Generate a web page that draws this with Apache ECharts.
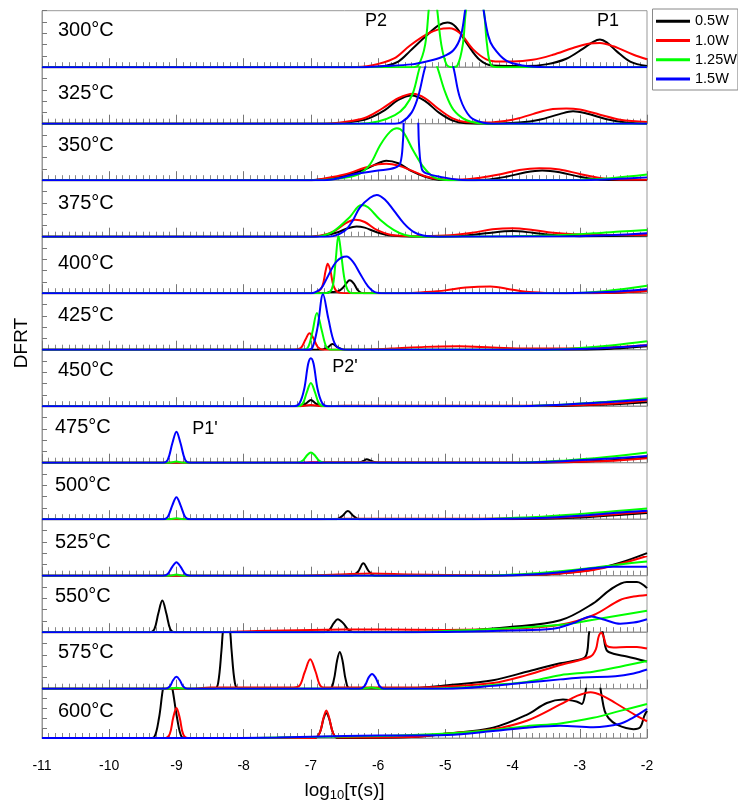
<!DOCTYPE html>
<html><head><meta charset="utf-8">
<script src="https://cdn.jsdelivr.net/npm/echarts@6/dist/echarts.min.js"></script>
<style>html,body{margin:0;padding:0;background:#fff}#c{width:738px;height:803px}</style>
</head><body><div id="c"></div>
<script>
// ---------- categories / labels ----------
const powers = ['0.5W', '1.0W', '1.25W', '1.5W'];
const temps = ['300°C','325°C','350°C','375°C','400°C','425°C','450°C','475°C','500°C','525°C','550°C','575°C','600°C'];
const xMin = -11, xMax = -2, xStep = 1;

// ---------- series values: [log10(tau), DFRT (fraction of panel height)] ----------
// 300°C
const d300_05 = [[-11,0],[-6.2,0],[-5.9,0.02],[-5.7,0.1],[-5.53,0.28],[-5.28,0.56],[-5.1,0.74],[-4.97,0.79],[-4.85,0.72],[-4.68,0.42],[-4.49,0.13],[-4.3,0.03],[-3.8,0.02],[-3.5,0.05],[-3.2,0.15],[-2.95,0.33],[-2.8,0.45],[-2.7,0.49],[-2.6,0.44],[-2.45,0.28],[-2.25,0.1],[-2,0.02]];
const d300_10 = [[-11,0],[-6.4,0],[-6.1,0.03],[-5.77,0.15],[-5.53,0.38],[-5.28,0.58],[-5.1,0.67],[-4.94,0.69],[-4.78,0.6],[-4.59,0.32],[-4.39,0.14],[-4.2,0.1],[-4.0,0.1],[-3.7,0.13],[-3.4,0.22],[-3.1,0.34],[-2.85,0.42],[-2.7,0.43],[-2.5,0.37],[-2.2,0.22],[-2,0.14]];
const d300_125 = [[-11,0],[-5.5,0],[-5.4,0.04],[-5.3,0.4],[-5.24,1.1],[-5.19,1.5],[-5.13,1.1],[-5.06,0.4],[-4.98,0.04],[-4.9,0],[-4.82,0.03],[-4.74,0.4],[-4.68,1.1],[-4.56,1.5],[-4.44,1.1],[-4.38,0.4],[-4.32,0.04],[-4.2,0],[-2,0]];
const d300_15 = [[-11,0],[-6.3,0],[-5.9,0.02],[-5.5,0.05],[-5.28,0.1],[-5.05,0.18],[-4.88,0.3],[-4.77,0.55],[-4.7,1.05],[-4.62,1.6],[-4.5,1.6],[-4.43,1.0],[-4.36,0.55],[-4.29,0.36],[-4.1,0.12],[-3.85,0.03],[-3.5,0],[-2,0]];
// 325°C
const d325_05 = [[-11,0],[-6.7,0],[-6.4,0.03],[-6.15,0.09],[-5.9,0.24],[-5.7,0.42],[-5.5,0.5],[-5.3,0.4],[-5.1,0.2],[-4.9,0.06],[-4.7,0.01],[-4.3,0],[-3.9,0.02],[-3.6,0.07],[-3.3,0.17],[-3.1,0.22],[-2.9,0.18],[-2.6,0.08],[-2.3,0.02],[-2,0]];
const d325_10 = [[-11,0],[-6.8,0],[-6.5,0.03],[-6.2,0.1],[-5.95,0.26],[-5.7,0.45],[-5.48,0.53],[-5.3,0.45],[-5.1,0.26],[-4.9,0.1],[-4.7,0.03],[-4.4,0.02],[-4.0,0.07],[-3.7,0.17],[-3.4,0.26],[-3.2,0.27],[-3.0,0.25],[-2.7,0.16],[-2.4,0.07],[-2,0.03]];
const d325_125 = [[-11,0],[-6.3,0],[-6.0,0.04],[-5.75,0.15],[-5.6,0.3],[-5.48,0.55],[-5.38,1.0],[-5.25,1.4],[-5.12,1.0],[-5.0,0.55],[-4.88,0.25],[-4.7,0.07],[-4.5,0.01],[-4.3,0],[-2,0]];
const d325_15 = [[-11,0],[-5.8,0],[-5.65,0.03],[-5.5,0.2],[-5.4,0.5],[-5.3,1.0],[-5.15,1.5],[-5.0,1.5],[-4.88,1.0],[-4.78,0.45],[-4.63,0.12],[-4.45,0.02],[-4.3,0],[-2,0]];
// 350°C
const d350_05 = [[-11,0],[-7.0,0],[-6.8,0.02],[-6.5,0.08],[-6.2,0.19],[-6.0,0.3],[-5.88,0.345],[-5.7,0.3],[-5.5,0.16],[-5.3,0.06],[-5.1,0.01],[-4.8,0],[-4.4,0.01],[-4.1,0.06],[-3.8,0.14],[-3.56,0.17],[-3.3,0.14],[-3.0,0.06],[-2.7,0.01],[-2,0]];
const d350_10 = [[-11,0],[-7.0,0],[-6.8,0.03],[-6.5,0.1],[-6.2,0.22],[-6.0,0.28],[-5.88,0.29],[-5.7,0.26],[-5.5,0.17],[-5.3,0.07],[-5.1,0.02],[-4.8,0.01],[-4.5,0.04],[-4.2,0.1],[-3.9,0.18],[-3.6,0.21],[-3.3,0.19],[-3.0,0.11],[-2.7,0.04],[-2.4,0.01],[-2,0.01]];
const d350_125 = [[-11,0],[-6.9,0],[-6.6,0.03],[-6.3,0.1],[-6.12,0.28],[-5.97,0.62],[-5.82,0.86],[-5.72,0.92],[-5.63,0.86],[-5.48,0.53],[-5.33,0.24],[-5.18,0.06],[-5.03,0.01],[-4.8,0],[-3.0,0.01],[-2.5,0.04],[-2,0.1]];
const d350_15 = [[-11,0],[-6.8,0],[-6.6,0.03],[-6.3,0.12],[-6.0,0.17],[-5.75,0.22],[-5.67,0.3],[-5.63,0.7],[-5.6,1.3],[-5.5,1.6],[-5.42,1.3],[-5.39,0.6],[-5.35,0.2],[-5.28,0.12],[-5.03,0.05],[-4.8,0.01],[-4.5,0],[-3.0,0],[-2.5,0.02],[-2,0.05]];
// 375°C
const d375_05 = [[-11,0],[-7.0,0],[-6.8,0.02],[-6.6,0.08],[-6.45,0.15],[-6.32,0.18],[-6.2,0.16],[-6.02,0.08],[-5.8,0.02],[-5.5,0],[-4.8,0.01],[-4.4,0.06],[-4.0,0.1],[-3.7,0.07],[-3.4,0.03],[-3.0,0.01],[-2,0.02]];
const d375_10 = [[-11,0],[-7.0,0],[-6.85,0.02],[-6.65,0.1],[-6.48,0.24],[-6.34,0.3],[-6.2,0.26],[-6.02,0.12],[-5.8,0.03],[-5.5,0.01],[-5.0,0.02],[-4.6,0.07],[-4.3,0.13],[-4.0,0.15],[-3.7,0.12],[-3.4,0.07],[-3.0,0.04],[-2.5,0.03],[-2,0.03]];
const d375_125 = [[-11,0],[-7.0,0],[-6.86,0.01],[-6.67,0.09],[-6.42,0.35],[-6.25,0.56],[-6.15,0.52],[-5.97,0.3],[-5.77,0.12],[-5.6,0.03],[-5.4,0],[-4.0,0.01],[-3.5,0.02],[-2.8,0.06],[-2.4,0.09],[-2,0.12]];
const d375_15 = [[-11,0],[-6.8,0],[-6.67,0.01],[-6.5,0.1],[-6.38,0.28],[-6.27,0.52],[-6.12,0.69],[-6.02,0.74],[-5.9,0.66],[-5.77,0.47],[-5.62,0.24],[-5.48,0.09],[-5.33,0.02],[-5.1,0],[-3.0,0.01],[-2.5,0.03],[-2,0.06]];
// 400°C
const d400_05 = [[-11,0],[-6.8,0],[-6.72,0.02],[-6.6,0.03],[-6.52,0.1],[-6.45,0.21],[-6.42,0.23],[-6.36,0.17],[-6.3,0.05],[-6.22,0],[-3.0,0],[-2.5,0.01],[-2,0.04]];
const d400_10 = [[-11,0],[-7.0,0],[-6.9,0.02],[-6.83,0.12],[-6.78,0.4],[-6.75,0.52],[-6.71,0.4],[-6.66,0.12],[-6.58,0.01],[-6.4,0],[-5.6,0],[-5.3,0.02],[-5.0,0.05],[-4.7,0.1],[-4.33,0.12],[-4.0,0.06],[-3.7,0.015],[-3.3,0],[-2.5,0.01],[-2,0.04]];
const d400_125 = [[-11,0],[-6.8,0],[-6.72,0.02],[-6.67,0.15],[-6.63,0.6],[-6.59,1.02],[-6.55,0.7],[-6.5,0.25],[-6.45,0.05],[-6.38,0],[-3.2,0],[-2.6,0.04],[-2,0.13]];
const d400_15 = [[-11,0],[-7.0,0],[-6.95,0.01],[-6.85,0.08],[-6.76,0.27],[-6.62,0.56],[-6.47,0.65],[-6.37,0.55],[-6.27,0.35],[-6.15,0.12],[-6.05,0.02],[-5.9,0],[-3.2,0],[-2.6,0.02],[-2,0.07]];
// 425°C
const d425_05 = [[-11,0],[-6.85,0],[-6.75,0.04],[-6.68,0.1],[-6.6,0.04],[-6.5,0],[-3.0,0],[-2.5,0.02],[-2,0.06]];
const d425_10 = [[-11,0],[-7.25,0],[-7.15,0.03],[-7.08,0.18],[-7.02,0.29],[-6.96,0.2],[-6.9,0.05],[-6.82,0],[-6.3,0],[-5.8,0.02],[-5.3,0.05],[-4.8,0.06],[-4.3,0.04],[-3.8,0.02],[-3.3,0.02],[-2.6,0.04],[-2,0.08]];
const d425_125 = [[-11,0],[-7.15,0],[-7.05,0.03],[-6.98,0.3],[-6.91,0.65],[-6.84,0.35],[-6.77,0.05],[-6.7,0],[-3.5,0],[-3.0,0.03],[-2.5,0.08],[-2,0.15]];
const d425_15 = [[-11,0],[-7.05,0],[-6.98,0.03],[-6.9,0.4],[-6.82,0.98],[-6.74,0.55],[-6.65,0.12],[-6.55,0.01],[-6.45,0],[-3.5,0],[-2.8,0.02],[-2,0.08]];
// 450°C
const d450_05 = [[-11,0],[-7.15,0],[-7.07,0.05],[-7.0,0.11],[-6.93,0.05],[-6.85,0],[-3.5,0],[-2.6,0.03],[-2,0.07]];
const d450_10 = [[-11,0],[-7.2,0],[-7.0,0.02],[-6.8,0],[-6.5,0.01],[-5.0,0.01],[-3.5,0.01],[-2.6,0.04],[-2,0.1]];
const d450_125 = [[-11,0],[-7.2,0],[-7.12,0.05],[-7.06,0.25],[-7.0,0.41],[-6.94,0.25],[-6.88,0.05],[-6.8,0],[-4.0,0],[-3.2,0.03],[-2.6,0.08],[-2,0.14]];
const d450_15 = [[-11,0],[-7.25,0],[-7.17,0.05],[-7.1,0.3],[-7.04,0.75],[-7.0,0.85],[-6.96,0.75],[-6.9,0.3],[-6.83,0.05],[-6.75,0],[-4.0,0],[-3.2,0.03],[-2.6,0.07],[-2,0.12]];
// 475°C
const d475_05 = [[-11,0],[-6.3,0],[-6.22,0.03],[-6.17,0.06],[-6.1,0.03],[-6.0,0],[-3.5,0],[-2.6,0.04],[-2,0.09]];
const d475_10 = [[-11,0],[-7.1,0],[-7.0,0.01],[-5.0,0.005],[-3.5,0.01],[-2.6,0.03],[-2,0.08]];
const d475_125 = [[-11,0],[-9.1,0],[-9.0,0.02],[-8.9,0],[-7.2,0],[-7.12,0.04],[-7.05,0.14],[-7.0,0.18],[-6.95,0.14],[-6.88,0.04],[-6.8,0],[-4.0,0],[-3.2,0.04],[-2.6,0.1],[-2,0.18]];
const d475_15 = [[-11,0],[-9.2,0],[-9.13,0.05],[-9.06,0.35],[-9.0,0.55],[-8.94,0.35],[-8.87,0.05],[-8.8,0],[-4.0,0],[-3.2,0.03],[-2.6,0.07],[-2,0.12]];
// 500°C
const d500_05 = [[-11,0],[-6.62,0],[-6.54,0.05],[-6.45,0.145],[-6.36,0.05],[-6.28,0],[-4.0,0],[-3.2,0.02],[-2.6,0.06],[-2,0.11]];
const d500_10 = [[-11,0],[-7.0,0],[-6.5,0.01],[-4.5,0.01],[-3.5,0.02],[-2.8,0.06],[-2,0.13]];
const d500_125 = [[-11,0],[-9.1,0],[-9.0,0.015],[-8.9,0],[-4.6,0],[-3.8,0.03],[-3.0,0.09],[-2.5,0.14],[-2,0.19]];
const d500_15 = [[-11,0],[-9.2,0],[-9.13,0.04],[-9.06,0.25],[-9.0,0.39],[-8.94,0.25],[-8.87,0.04],[-8.8,0],[-4.5,0],[-3.6,0.02],[-3.0,0.06],[-2.5,0.11],[-2,0.15]];
// 525°C
const d525_05 = [[-11,0],[-6.4,0],[-6.3,0.07],[-6.22,0.22],[-6.14,0.08],[-6.05,0],[-4.3,0],[-3.6,0.02],[-3.29,0.04],[-2.8,0.11],[-2.4,0.23],[-2,0.4]];
const d525_10 = [[-11,0],[-7.2,0],[-6.6,0.02],[-6.1,0.04],[-5.5,0.02],[-4.5,0.01],[-3.6,0.02],[-3.29,0.04],[-2.8,0.1],[-2.4,0.21],[-2,0.35]];
const d525_125 = [[-11,0],[-9.1,0],[-9.0,0.02],[-8.9,0],[-4.6,0],[-4.0,0.02],[-3.6,0.05],[-3.29,0.08],[-2.8,0.14],[-2.4,0.2],[-2,0.25]];
const d525_15 = [[-11,0],[-9.2,0],[-9.13,0.03],[-9.06,0.16],[-9.0,0.24],[-8.94,0.16],[-8.87,0.03],[-8.8,0],[-4.3,0],[-4.0,0.01],[-3.6,0.03],[-3.29,0.06],[-2.8,0.13],[-2.5,0.16],[-2.2,0.16],[-2,0.16]];
// 550°C
const d550_05 = [[-11,0],[-9.4,0],[-9.33,0.05],[-9.27,0.33],[-9.21,0.56],[-9.15,0.33],[-9.09,0.05],[-9.02,0],[-6.8,0],[-6.72,0.05],[-6.66,0.16],[-6.6,0.23],[-6.52,0.16],[-6.44,0.04],[-6.36,0],[-5.0,0.01],[-4.04,0.09],[-3.29,0.21],[-2.8,0.51],[-2.55,0.75],[-2.3,0.89],[-2.15,0.89],[-2,0.78]];
const d550_10 = [[-11,0],[-8.4,0],[-7.8,0.02],[-7.0,0.04],[-6.0,0.05],[-5.0,0.04],[-4.04,0.06],[-3.29,0.13],[-2.8,0.3],[-2.4,0.57],[-2.2,0.63],[-2,0.66]];
const d550_125 = [[-11,0],[-5.5,0],[-5.0,0.02],[-4.04,0.07],[-3.29,0.13],[-2.8,0.22],[-2.4,0.3],[-2,0.38]];
const d550_15 = [[-11,0],[-5.5,0],[-4.8,0.01],[-4.04,0.03],[-3.4,0.06],[-3.1,0.16],[-2.83,0.28],[-2.63,0.22],[-2.4,0.15],[-2.2,0.17],[-2,0.23]];
// 575°C
const d575_05 = [[-11,0],[-8.43,0],[-8.38,0.1],[-8.33,0.68],[-8.31,1.0],[-8.255,1.5],[-8.2,1.0],[-8.18,0.68],[-8.13,0.1],[-8.08,0],[-6.72,0],[-6.66,0.15],[-6.61,0.5],[-6.57,0.65],[-6.53,0.5],[-6.48,0.15],[-6.42,0],[-5.5,0.01],[-4.97,0.06],[-4.29,0.15],[-3.79,0.3],[-3.29,0.45],[-2.94,0.54],[-2.89,0.65],[-2.86,1.0],[-2.78,1.4],[-2.66,1.0],[-2.6,0.68],[-2.5,0.62],[-2.3,0.57],[-2,0.48]];
const d575_10 = [[-11,0],[-8.8,0],[-8.5,0.02],[-7.3,0.02],[-7.18,0.04],[-7.09,0.3],[-7.01,0.52],[-6.93,0.3],[-6.85,0.04],[-6.75,0.02],[-5.5,0.02],[-4.97,0.04],[-4.29,0.1],[-3.79,0.24],[-3.29,0.42],[-2.84,0.57],[-2.76,0.7],[-2.72,0.92],[-2.68,0.99],[-2.64,0.9],[-2.6,0.76],[-2.5,0.73],[-2.3,0.74],[-2.15,0.74],[-2,0.71]];
const d575_125 = [[-11,0],[-9.1,0],[-9.0,0.015],[-8.9,0],[-6.25,0],[-6.1,0.02],[-5.95,0],[-5.2,0],[-4.6,0.03],[-4.29,0.065],[-3.79,0.12],[-3.29,0.24],[-2.8,0.3],[-2.4,0.39],[-2,0.49]];
const d575_15 = [[-11,0],[-9.17,0],[-9.1,0.04],[-9.05,0.15],[-9.0,0.21],[-8.95,0.15],[-8.9,0.04],[-8.84,0],[-6.27,0],[-6.2,0.05],[-6.14,0.2],[-6.09,0.26],[-6.04,0.2],[-5.98,0.05],[-5.92,0],[-5.0,0],[-4.29,0.05],[-3.79,0.11],[-3.29,0.165],[-2.97,0.2],[-2.47,0.22],[-2.2,0.27],[-2,0.34]];
// 600°C
const d600_05 = [[-11,0],[-9.4,0],[-9.33,0.02],[-9.26,0.4],[-9.2,1.0],[-9.13,1.4],[-9.06,1.0],[-8.99,0.4],[-8.92,0.02],[-8.85,0],[-6.95,0],[-6.87,0.1],[-6.81,0.4],[-6.77,0.5],[-6.73,0.4],[-6.67,0.1],[-6.6,0],[-5.5,0.02],[-4.97,0.09],[-4.29,0.21],[-3.79,0.47],[-3.49,0.71],[-3.25,0.78],[-3.05,0.74],[-2.97,0.69],[-2.92,0.9],[-2.88,1.2],[-2.8,1.4],[-2.72,1.2],[-2.68,0.9],[-2.63,0.55],[-2.57,0.4],[-2.45,0.27],[-2.2,0.18],[-2.1,0.22],[-2.04,0.45],[-2,0.55]];
const d600_10 = [[-11,0],[-9.18,0],[-9.1,0.08],[-9.05,0.4],[-9.0,0.61],[-8.95,0.4],[-8.9,0.08],[-8.83,0],[-6.95,0],[-6.87,0.1],[-6.81,0.42],[-6.77,0.56],[-6.73,0.42],[-6.67,0.1],[-6.6,0.01],[-5.5,0.02],[-4.97,0.09],[-4.29,0.18],[-3.79,0.35],[-3.29,0.68],[-3.05,0.85],[-2.84,0.93],[-2.65,0.85],[-2.47,0.71],[-2.18,0.47],[-2,0.34]];
const d600_125 = [[-11,0],[-8.3,0],[-7.5,0.01],[-6.5,0.03],[-5.7,0.05],[-4.97,0.09],[-4.29,0.16],[-3.79,0.24],[-3.29,0.295],[-2.8,0.41],[-2.4,0.55],[-2,0.69]];
const d600_15 = [[-11,0],[-8.2,0],[-7.5,0.01],[-6.5,0.04],[-6.0,0.05],[-4.97,0.06],[-4.29,0.14],[-3.79,0.21],[-3.29,0.25],[-2.8,0.22],[-2.4,0.29],[-2.2,0.42],[-2,0.59]];

// panel order: [0.5W, 1.0W, 1.25W, 1.5W]
const panelSeries = [
  [d300_05, d300_10, d300_125, d300_15],
  [d325_05, d325_10, d325_125, d325_15],
  [d350_05, d350_10, d350_125, d350_15],
  [d375_05, d375_10, d375_125, d375_15],
  [d400_05, d400_10, d400_125, d400_15],
  [d425_05, d425_10, d425_125, d425_15],
  [d450_05, d450_10, d450_125, d450_15],
  [d475_05, d475_10, d475_125, d475_15],
  [d500_05, d500_10, d500_125, d500_15],
  [d525_05, d525_10, d525_125, d525_15],
  [d550_05, d550_10, d550_125, d550_15],
  [d575_05, d575_10, d575_125, d575_15],
  [d600_05, d600_10, d600_125, d600_15]
];

// ---------- layout / style ----------
const FONT = '"Liberation Sans", Arial, Helvetica, sans-serif';
const colors = ['#000000', '#ff0000', '#00ff00', '#0000ff'];
const gridLeft = 42, gridWidth = 605, gridTop0 = 10.7, panelH = 56.5;
const labelX = [58,58,58,58,58,58,58,55,55,55,55,58,58];
const labelDy = [20,26.5,21.8,23,27,22.3,20.3,21.3,23,23.3,21,20,23];

const chart = echarts.init(document.getElementById('c'), null, {renderer: 'canvas'});
const grids = [], xAxes = [], yAxes = [], series = [];
panelSeries.forEach((p, i) => {
  const last = i === panelSeries.length - 1;
  grids.push({left: gridLeft, width: gridWidth, top: gridTop0 + i * panelH, height: panelH,
    show: true, borderColor: '#999', borderWidth: 1, backgroundColor: 'transparent'});
  xAxes.push({
    gridIndex: i, type: 'value', min: xMin, max: xMax, interval: xStep,
    axisLine: {show: true, onZero: false, lineStyle: {color: '#999', width: 1}},
    axisTick: {show: true, inside: true, length: 9, lineStyle: {color: '#777', width: 1}},
    minorTick: {show: true, splitNumber: 10, length: 5, lineStyle: {color: '#888', width: 1}},
    splitLine: {show: false},
    axisLabel: {show: last, fontFamily: FONT, fontSize: 14, color: '#000', margin: 21, showMinLabel: true, showMaxLabel: true},
    name: last ? '{a|log}{s|10}{a|[τ(s)]}' : '',
    nameLocation: 'middle', nameGap: 42,
    nameTextStyle: {rich: {
      a: {fontFamily: FONT, fontSize: 19, color: '#000'},
      s: {fontFamily: FONT, fontSize: 13, color: '#000', padding: [9, 0, 0, 0]}
    }}
  });
  yAxes.push({
    gridIndex: i, type: 'value', min: 0, max: 1, interval: 0.2,
    axisLine: {show: true, lineStyle: {color: '#999', width: 1}},
    axisTick: {show: true, inside: true, length: 5, lineStyle: {color: '#777'}},
    axisLabel: {show: false}, splitLine: {show: false}
  });
  p.forEach((d, k) => series.push({
    type: 'line', name: powers[k], xAxisIndex: i, yAxisIndex: i, data: d,
    symbol: 'none', showSymbol: false, smooth: 0.35,
    lineStyle: {color: colors[k], width: 2}, itemStyle: {color: colors[k]},
    clip: true, silent: true, z: 2 + k
  }));
});

const graphics = temps.map((t, i) => ({
  type: 'text', x: labelX[i], y: gridTop0 + i * panelH + labelDy[i],
  style: {text: t, font: '20px ' + FONT, fill: '#000', align: 'left', verticalAlign: 'middle'}
}));
graphics.push({type: 'text', x: 22, y: 343, rotation: Math.PI / 2,
  style: {text: 'DFRT', font: '19px ' + FONT, fill: '#000', align: 'center', verticalAlign: 'middle'}});
[['P2', 376, 21.5], ['P1', 608, 21.5], ["P2'", 345, 367], ["P1'", 205, 429]].forEach(a => {
  graphics.push({type: 'text', x: a[1], y: a[2], z: 50,
    style: {text: a[0], font: '18px ' + FONT, fill: '#000', align: 'center', verticalAlign: 'middle'}});
});

chart.setOption({
  animation: false,
  backgroundColor: '#fff',
  grid: grids, xAxis: xAxes, yAxis: yAxes, series: series,
  legend: {
    data: powers, orient: 'vertical', left: 652.5, top: 9,
    padding: [4.7, 1, 3.4, 2], itemGap: 4.3, itemWidth: 34, itemHeight: 14,
    borderColor: '#888', borderWidth: 1, backgroundColor: '#fff',
    lineStyle: {width: 3}, itemStyle: {opacity: 0, borderWidth: 0}, selectedMode: false,
    textStyle: {fontFamily: FONT, fontSize: 14.5, color: '#000', lineHeight: 14}
  },
  graphic: graphics
});
</script>
</body></html>
